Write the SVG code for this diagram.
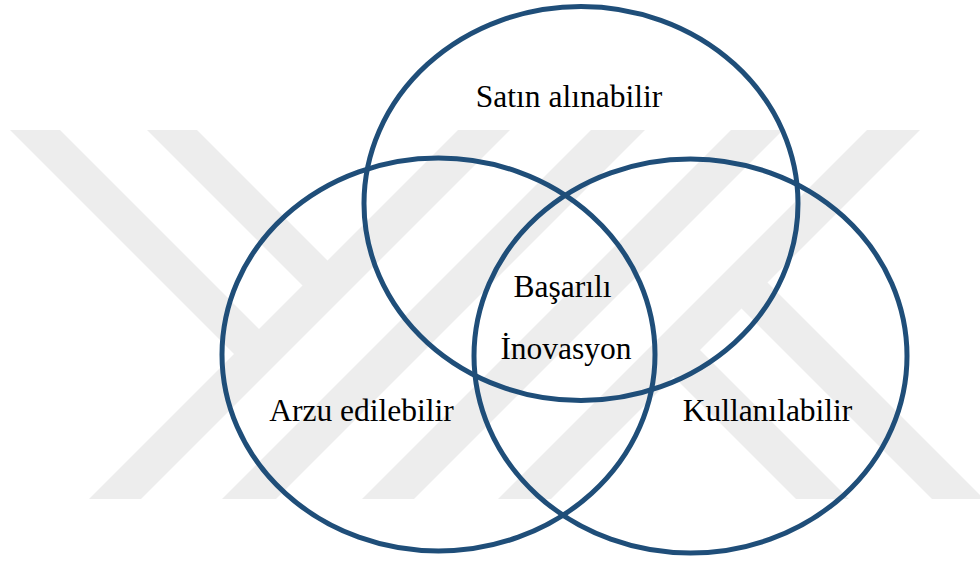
<svg xmlns="http://www.w3.org/2000/svg" width="980" height="561" viewBox="0 0 980 561">
  <style>
    .wm { fill: #ededed; stroke: none; }
    .set { fill: none; stroke: #1f4e79; stroke-width: 5; }
    .lbl { font-family: "Liberation Serif", "Times New Roman", serif; font-size: 31.5px; fill: #000000; text-anchor: middle; }
  </style>
  <rect x="0" y="0" width="980" height="561" fill="#ffffff"/>
  <g id="watermark">
    <polygon class="wm" points="458,130 510,130 141,499 89,499"/>
    <polygon class="wm" points="591,130 645,130 276,499 222,499"/>
    <polygon class="wm" points="731,130 783,130 414,499 362,499"/>
    <polygon class="wm" points="867,130 920,130 551,499 498,499"/>
    <polygon class="wm" points="10,130 60,130 265,335 240,360"/>
    <polygon class="wm" points="147,130 197,130 333.5,266.5 308.5,291.5"/>
    <polygon class="wm" points="796,499 849,499 695,345 668.5,371.5"/>
    <polygon class="wm" points="932,499 984,499 762.5,277.5 736.5,303.5"/>
  </g>
  <g id="set-satin-alinabilir">
    <ellipse class="set" cx="581" cy="203.5" rx="217" ry="197"/>
    <text class="lbl" x="569" y="107">Satın alınabilir</text>
  </g>
  <g id="set-arzu-edilebilir">
    <ellipse class="set" cx="438.5" cy="354.5" rx="216.5" ry="196.5"/>
    <text class="lbl" x="361.5" y="421">Arzu edilebilir</text>
  </g>
  <g id="set-kullanilabilir">
    <ellipse class="set" cx="690.5" cy="356" rx="216.5" ry="197"/>
    <text class="lbl" x="767.5" y="421">Kullanılabilir</text>
  </g>
  <g id="center-basarili-inovasyon">
    <text class="lbl" x="562.5" y="297">Başarılı</text>
    <text class="lbl" x="566" y="359">İnovasyon</text>
  </g>
  <g id="connectors"/>
</svg>
